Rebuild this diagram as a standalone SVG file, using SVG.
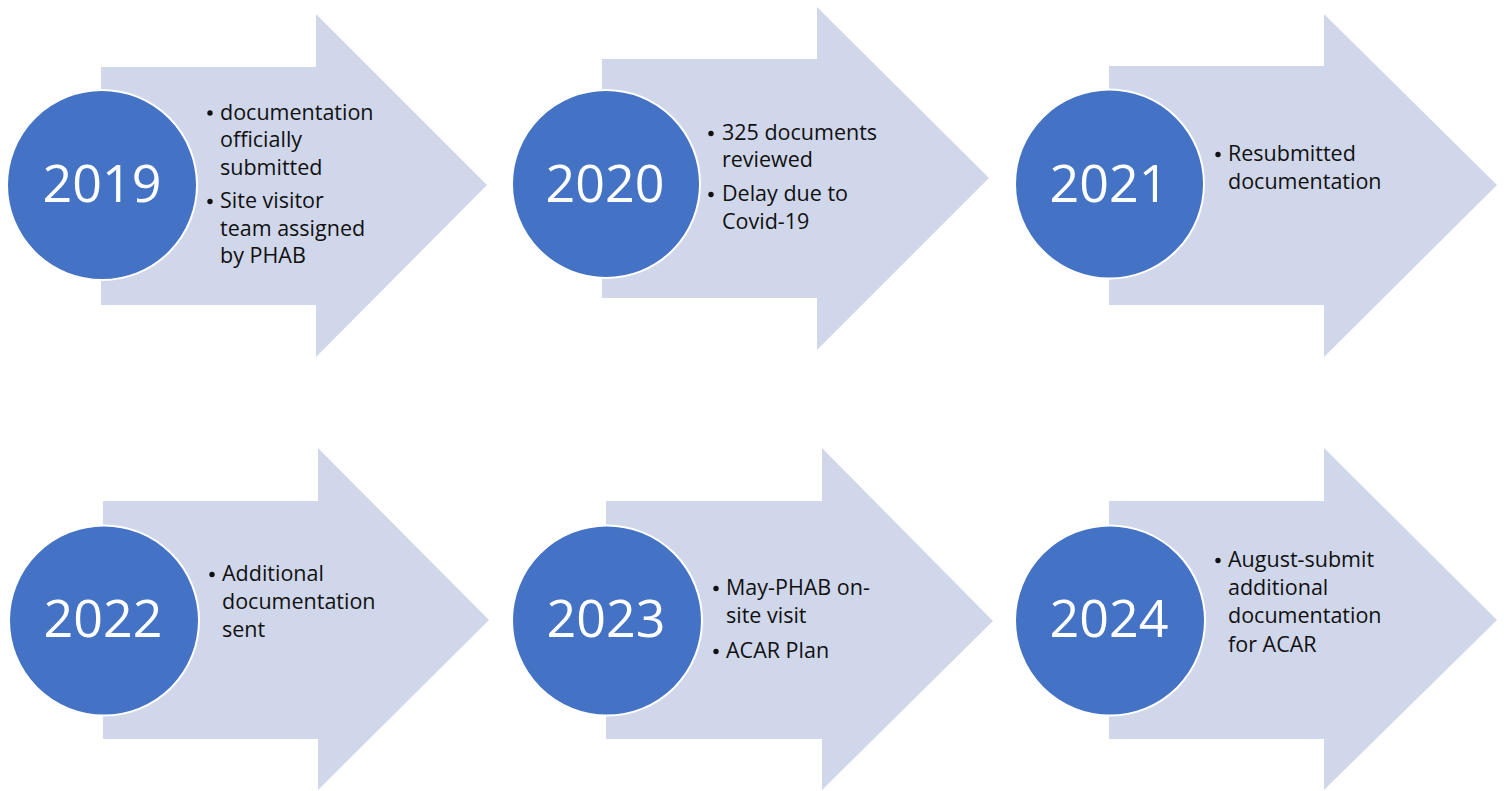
<svg xmlns="http://www.w3.org/2000/svg" width="1504" height="791" viewBox="0 0 1504 791">
<style>
.arrow{fill:#D0D7EA;}
.circ{fill:#4472C4;stroke:#FFFFFF;stroke-width:2;}
.year{font-family:"Open Sans","Liberation Sans",sans-serif;font-size:52px;fill:#FFFFFF;text-anchor:middle;}
.txt{font-family:"Open Sans","Liberation Sans",sans-serif;font-size:21.5px;fill:#111111;}
.bul{fill:#111111;}
</style>
<rect width="1504" height="791" fill="#FFFFFF"/>
<g id="connectors"></g>
<g id="node-2019">
<path class="arrow" d="M101,67 H316 V14 L487,185 L316,357 V305 H101 Z"/>
<circle class="circ" cx="102" cy="185" r="95"/>
<text class="year" x="102" y="202">2019</text>
<circle class="bul" cx="210" cy="113" r="2.7"/>
<text class="txt" x="220" y="119.5">documentation</text>
<text class="txt" x="220" y="147">officially</text>
<text class="txt" x="220" y="174.5">submitted</text>
<circle class="bul" cx="210" cy="201.5" r="2.7"/>
<text class="txt" x="220" y="208">Site visitor</text>
<text class="txt" x="220" y="235.5">team assigned</text>
<text class="txt" x="220" y="263">by PHAB</text>
</g>
<g id="node-2020">
<path class="arrow" d="M602,59 H817 V7 L989,178 L817,350 V298 H602 Z"/>
<circle class="circ" cx="606" cy="184" r="94"/>
<text class="year" x="605" y="202">2020</text>
<circle class="bul" cx="711" cy="133.5" r="2.7"/>
<text class="txt" x="722" y="140">325 documents</text>
<text class="txt" x="722" y="167">reviewed</text>
<circle class="bul" cx="711" cy="194.5" r="2.7"/>
<text class="txt" x="722" y="201">Delay due to</text>
<text class="txt" x="722" y="229">Covid-19</text>
</g>
<g id="node-2021">
<path class="arrow" d="M1109,66 H1324 V14 L1497,185 L1324,357 V305 H1109 Z"/>
<circle class="circ" cx="1109.5" cy="184" r="94.5"/>
<text class="year" x="1109" y="202">2021</text>
<circle class="bul" cx="1218" cy="154.5" r="2.7"/>
<text class="txt" x="1228" y="161">Resubmitted</text>
<text class="txt" x="1228" y="189">documentation</text>
</g>
<g id="node-2022">
<path class="arrow" d="M103,501 H318 V448 L489,620 L318,790 V739 H103 Z"/>
<circle class="circ" cx="104" cy="620.5" r="95"/>
<text class="year" x="103" y="637">2022</text>
<circle class="bul" cx="212" cy="574.5" r="2.7"/>
<text class="txt" x="222" y="581">Additional</text>
<text class="txt" x="222" y="609">documentation</text>
<text class="txt" x="222" y="637">sent</text>
</g>
<g id="node-2023">
<path class="arrow" d="M606,501 H822 V448 L993,621 L822,790 V739 H606 Z"/>
<circle class="circ" cx="607" cy="620.5" r="95"/>
<text class="year" x="606" y="637">2023</text>
<circle class="bul" cx="716" cy="588.5" r="2.7"/>
<text class="txt" x="726" y="595">May-PHAB on-</text>
<text class="txt" x="726" y="623">site visit</text>
<circle class="bul" cx="716" cy="651.5" r="2.7"/>
<text class="txt" x="726" y="658">ACAR Plan</text>
</g>
<g id="node-2024">
<path class="arrow" d="M1109,501 H1324 V448 L1497,620 L1324,790 V739 H1109 Z"/>
<circle class="circ" cx="1110" cy="620.5" r="95"/>
<text class="year" x="1109" y="637">2024</text>
<circle class="bul" cx="1218" cy="560.5" r="2.7"/>
<text class="txt" x="1228" y="567">August-submit</text>
<text class="txt" x="1228" y="595">additional</text>
<text class="txt" x="1228" y="623">documentation</text>
<text class="txt" x="1228" y="652">for ACAR</text>
</g>
</svg>
